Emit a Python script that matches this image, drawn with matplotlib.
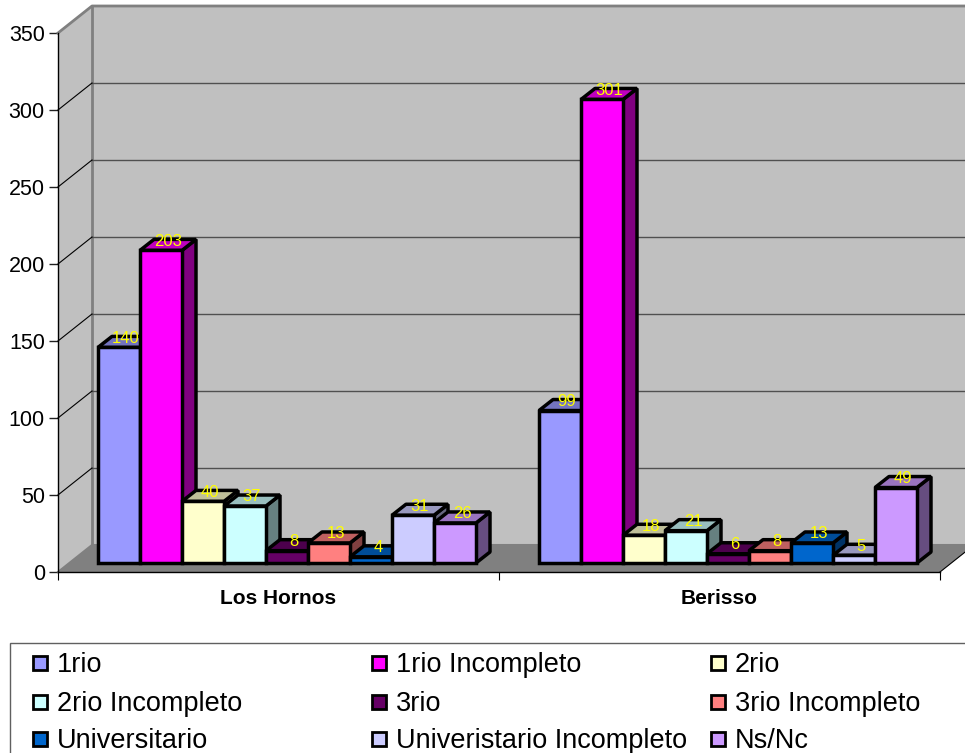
import numpy as np
import matplotlib
matplotlib.use('Agg')
import matplotlib.pyplot as plt
from matplotlib.patches import Polygon, Rectangle
from matplotlib.colors import to_rgb

plt.rcParams['font.family'] = ['Liberation Sans', 'DejaVu Sans']

W, H = 965, 753

categories = ['Los Hornos', 'Berisso']
series = ['1rio', '1rio Incompleto', '2rio', '2rio Incompleto', '3rio',
          '3rio Incompleto', 'Universitario', 'Univeristario Incompleto', 'Ns/Nc']
los_hornos = [140, 203, 40, 37, 8, 13, 4, 31, 26]
berisso = [99, 301, 18, 21, 6, 8, 13, 5, 49]
colors = ['#9999FF', '#FF00FF', '#FFFFCC', '#CCFFFF', '#660066',
          '#FF8080', '#0066CC', '#CCCCFF', '#CC99FF']
y_ticks = [0, 50, 100, 150, 200, 250, 300, 350]

fig = plt.figure(figsize=(W / 100, H / 100), dpi=100, facecolor='white')
ax = fig.add_axes([58 / W, (H - 572) / H, 882 / W, 539 / H])
ax.set_xlim(0, 2)
ax.set_ylim(0, 350)
ax.patch.set_visible(False)
for s in ax.spines.values():
    s.set_visible(False)

# px -> data units
ux = 2 / 882
uy = 350 / 539
wall_dx, wall_dy = 34 * ux, 27 * uy
bar_dx, bar_dy = 14 * ux, 11 * uy
bar_w = 42 * ux
bar_start = 40 * ux
bar_base = 9 * uy
right = 2 + wall_dx + 20 * ux


def poly(pts, fc, ec='none', lw=0, z=1):
    p = Polygon(pts, closed=True, facecolor=fc, edgecolor=ec, linewidth=lw,
                zorder=z, clip_on=False, joinstyle='bevel')
    ax.add_patch(p)
    return p


# walls and floor
poly([(0, 0), (wall_dx, wall_dy), (wall_dx, 350 + wall_dy), (0, 350)], '#C0C0C0', z=1)
poly([(wall_dx, wall_dy), (right, wall_dy), (right, 350 + wall_dy), (wall_dx, 350 + wall_dy)], '#C0C0C0', z=1)
poly([(0, 0), (wall_dx, wall_dy), (2 + wall_dx, wall_dy), (2, 0)], '#808080', z=1)
ax.plot([wall_dx, wall_dx], [wall_dy, 350 + wall_dy], color='#808080', lw=2, zorder=2, clip_on=False)
ax.plot([0, wall_dx, right], [350, 350 + wall_dy, 350 + wall_dy], color='#808080', lw=2, zorder=2, clip_on=False)
ax.plot([0, wall_dx, 2 + wall_dx], [0, wall_dy, wall_dy], color='#808080', lw=1.5, zorder=2, clip_on=False)

for v in y_ticks[1:-1]:
    ax.plot([wall_dx, right], [v + wall_dy, v + wall_dy], color='#505050', lw=1, zorder=2, clip_on=False)
    ax.plot([0, wall_dx], [v, v + wall_dy], color='black', lw=0.8, zorder=2, clip_on=False)

# front axes
ax.plot([0, 0], [0, 350], color='black', lw=1, zorder=3, clip_on=False)
ax.plot([0, 2], [0, 0], color='black', lw=1, zorder=3, clip_on=False)
ax.plot([2, 2 + wall_dx], [0, wall_dy], color='black', lw=0.8, zorder=3, clip_on=False)

ax.set_yticks(y_ticks)
ax.tick_params(axis='y', length=6.5, width=1, labelsize=15.5, pad=3, color='#202020')
ax.set_xticks([0, 1, 2])
ax.set_xticklabels(['', '', ''])
ax.tick_params(axis='x', length=6, width=0.8)
ax.set_xticks([0.5, 1.5], minor=True)
ax.set_xticklabels(categories, minor=True, fontweight='bold', fontsize=15)
ax.tick_params(axis='x', which='minor', length=0, pad=12)

# bars, left to right so the next front covers the previous side
z = 10
for g, values in enumerate([los_hornos, berisso]):
    for i, v in enumerate(values):
        c = np.array(to_rgb(colors[i]))
        x0 = g + bar_start + i * bar_w
        x1 = x0 + bar_w
        y0 = bar_base
        y1 = bar_base + v
        poly([(x1, y0), (x1 + bar_dx, y0 + bar_dy), (x1 + bar_dx, y1 + bar_dy), (x1, y1)],
             c * 0.5, 'black', 2.5, z)
        poly([(x0, y1), (x1, y1), (x1 + bar_dx, y1 + bar_dy), (x0 + bar_dx, y1 + bar_dy)],
             c * 0.75, 'black', 2.5, z + 1)
        ax.bar(x0, v, width=bar_w, bottom=bar_base, align='edge', color=colors[i],
               edgecolor='black', linewidth=2.5, zorder=z + 2, clip_on=False)
        ax.text((x0 + x1) / 2 + 7 * ux, y1 + 6, str(v), color='#FFFF00', fontsize=12,
                ha='center', va='center', zorder=500, clip_on=False)
        z += 3

# legend box, runs off the bottom and right of the picture
fig.add_artist(Rectangle((10 / W, -0.02), 1, (H - 643) / H + 0.02, transform=fig.transFigure,
                         facecolor='white', edgecolor='#606060', linewidth=1))
col_x = [33, 372, 711]
row_y = [663, 702, 739]
for i, name in enumerate(series):
    r, k = divmod(i, 3)
    fig.add_artist(Rectangle((col_x[k] / W, (H - row_y[r] - 7) / H), 14 / W, 14 / H,
                             transform=fig.transFigure, facecolor=colors[i],
                             edgecolor='black', linewidth=2))
    fig.text((col_x[k] + 24) / W, (H - row_y[r] - 9) / H, name, fontsize=19.5, va='baseline', ha='left')

fig.savefig('out.png', dpi=100)
